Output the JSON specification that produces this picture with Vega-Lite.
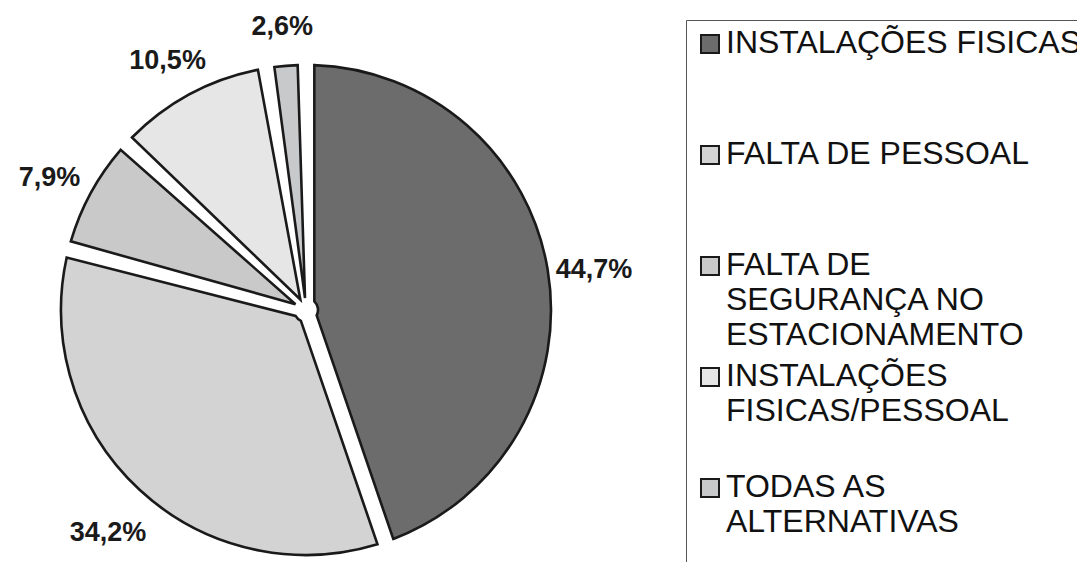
{
  "$schema": "https://vega.github.io/schema/vega-lite/v6.json",
  "autosize": {"type": "none"},
  "width": 612,
  "height": 504,
  "padding": {"left": 0, "top": 58, "right": 465, "bottom": 0},
  "background": "white",
  "config": {"view": {"stroke": null}, "font": "Liberation Sans"},
  "data": {
    "values": [
      {"motivo": "INSTALAÇÕES FISICAS", "pct": 44.7, "rotulo": "44,7%", "ordem": 1},
      {"motivo": "FALTA DE PESSOAL", "pct": 34.2, "rotulo": "34,2%", "ordem": 2},
      {"motivo": "FALTA DE SEGURANÇA NO ESTACIONAMENTO", "pct": 7.9, "rotulo": "7,9%", "ordem": 3},
      {"motivo": "INSTALAÇÕES FISICAS/PESSOAL", "pct": 10.5, "rotulo": "10,5%", "ordem": 4},
      {"motivo": "TODAS AS ALTERNATIVAS", "pct": 2.6, "rotulo": "2,6%", "ordem": 5}
    ]
  },
  "encoding": {
    "theta": {"field": "pct", "type": "quantitative", "stack": true},
    "order": {"field": "ordem", "type": "quantitative"}
  },
  "layer": [
    {
      "mark": {"type": "arc", "outerRadius": 245, "innerRadius": 12, "padAngle": 0.068, "stroke": "#1a1a1a", "strokeWidth": 2.6, "strokeJoin": "miter"},
      "encoding": {
        "color": {
          "field": "motivo",
          "type": "nominal",
          "scale": {
            "domain": ["INSTALAÇÕES FISICAS", "FALTA DE PESSOAL", "FALTA DE SEGURANÇA NO ESTACIONAMENTO", "INSTALAÇÕES FISICAS/PESSOAL", "TODAS AS ALTERNATIVAS"],
            "range": ["#6c6c6c", "#d3d3d3", "#c9c9c9", "#e6e6e6", "#c8c9cb"]
          },
          "legend": {
            "title": null,
            "orient": "none",
            "legendX": 686,
            "legendY": -38,
            "padding": 8,
            "strokeColor": "#555555",
            "fillColor": "white",
            "symbolType": "square",
            "symbolSize": 324,
            "symbolStrokeColor": "#1a1a1a",
            "symbolStrokeWidth": 2,
            "symbolOpacity": 1,
            "labelFont": "Liberation Sans",
            "labelFontSize": 32,
            "labelColor": "#111111",
            "labelBaseline": "top",
            "labelLimit": 0,
            "labelOffset": 0,
            "rowPadding": 9,
            "labelExpr": "datum.label == 'INSTALAÇÕES FISICAS' ? ['INSTALAÇÕES FISICAS', '', ''] : datum.label == 'FALTA DE PESSOAL' ? ['FALTA DE PESSOAL', '', ''] : datum.label == 'FALTA DE SEGURANÇA NO ESTACIONAMENTO' ? ['FALTA DE', 'SEGURANÇA NO', 'ESTACIONAMENTO'] : datum.label == 'INSTALAÇÕES FISICAS/PESSOAL' ? ['INSTALAÇÕES', 'FISICAS/PESSOAL', ''] : ['TODAS AS', 'ALTERNATIVAS', '']",
            "encode": {"labels": {"update": {"dy": {"value": -16}, "lineHeight": {"value": 35}}}}
          }
        }
      }
    },
    {
      "mark": {"type": "text", "radius": 292, "dy": 8, "font": "Liberation Sans", "fontSize": 27, "fontWeight": "bold", "fill": "#1a1a1a"},
      "encoding": {
        "text": {"field": "rotulo", "type": "nominal"}
      }
    }
  ]
}
